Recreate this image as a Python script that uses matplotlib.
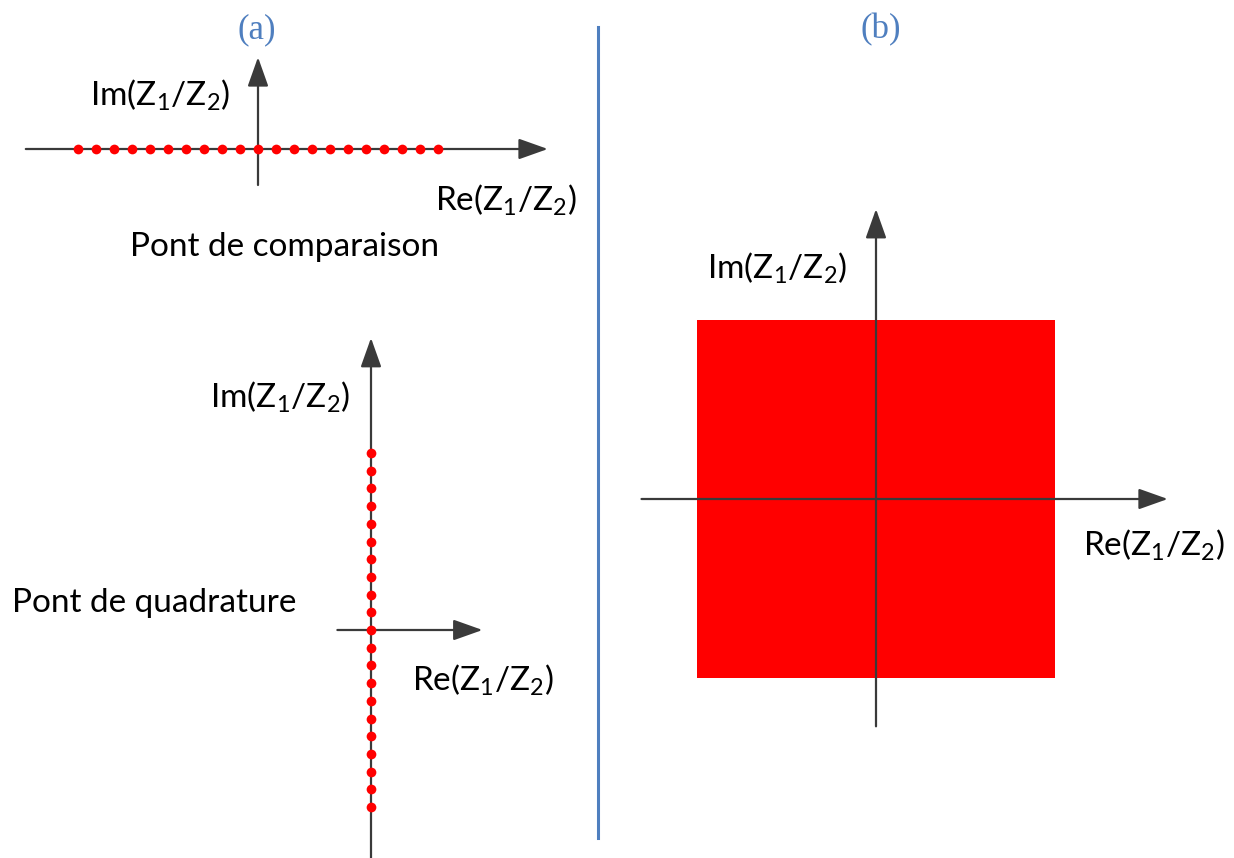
import matplotlib
matplotlib.use("Agg")
import matplotlib.pyplot as plt
from matplotlib.patches import Rectangle

# --- donnees ---
# pont de comparaison : rapport Z1/Z2 reel (points sur l'axe Re)
re_comparaison = [-10, -9, -8, -7, -6, -5, -4, -3, -2, -1, 0,
                  1, 2, 3, 4, 5, 6, 7, 8, 9, 10]
# pont de quadrature : rapport Z1/Z2 imaginaire pur (points sur l'axe Im)
im_quadrature = [-10, -9, -8, -7, -6, -5, -4, -3, -2, -1, 0,
                 1, 2, 3, 4, 5, 6, 7, 8, 9, 10]
# (b) zone couverte dans le plan complexe
zone_re = [-1.0, 1.0]
zone_im = [-1.0, 1.0]

label_im = r"Im(Z$_\mathregular{1}$/Z$_\mathregular{2}$)"
label_re = r"Re(Z$_\mathregular{1}$/Z$_\mathregular{2}$)"

W, H = 1234, 858
AXIS_COL = "#3a3a3a"
DOT_COL = "#ff0000"
BLUE = "#4f7fbf"
FONT = "Lato"

fig = plt.figure(figsize=(W / 100, H / 100), dpi=100)
fig.patch.set_facecolor("white")


def fx(x):
    return x / W


def fy(y):
    return 1 - y / H


def diagram_axes(box, origin, scale):
    """axes place en pixels (haut-gauche), origine et echelle en px/unite"""
    x0, y0, x1, y1 = box
    ax = fig.add_axes([fx(x0), fy(y1), (x1 - x0) / W, (y1 - y0) / H])
    ox, oy = origin
    ax.set_xlim((x0 - ox) / scale, (x1 - ox) / scale)
    ax.set_ylim(-(y1 - oy) / scale, (oy - y0) / scale)
    ax.axis("off")
    return ax


def arrow(ax, start, tip):
    ax.annotate("", xy=tip, xytext=start,
                arrowprops=dict(arrowstyle="-|>,head_length=0.9,head_width=0.32",
                                mutation_scale=20, color=AXIS_COL, lw=1.6,
                                shrinkA=0, shrinkB=0), zorder=2)


def label(x, y, s, size=24, **kw):
    fig.text(fx(x), fy(y), s, fontsize=size, family=FONT, va="center", **kw)


# ---------- (a) pont de comparaison ----------
ax1 = diagram_axes((0, 40, 598, 240), (258, 149), 18.0)
arrow(ax1, (-12.9, 0), (16.1, 0))
arrow(ax1, (0, -2.0), (0, 5.1))
ax1.plot(re_comparaison, [0] * len(re_comparaison), "o", color=DOT_COL,
         ms=7, mec="none", zorder=3)

label(90, 95, label_im)
label(435, 200, label_re)
label(130, 247, "Pont de comparaison")

# ---------- (a) pont de quadrature ----------
ax2 = diagram_axes((300, 320, 598, 858), (371, 630), 17.7)
arrow(ax2, (-1.9, 0), (6.3, 0))
arrow(ax2, (0, -13.0), (0, 16.5))
ax2.plot([0] * len(im_quadrature), im_quadrature, "o", color=DOT_COL,
         ms=7, mec="none", zorder=3)

label(210, 397, label_im)
label(412, 680, label_re)
label(12, 603, "Pont de quadrature")

# ---------- (b) ----------
ax3 = diagram_axes((610, 190, 1234, 760), (876, 499), 179.0)
ax3.add_patch(Rectangle((zone_re[0], zone_im[0]), zone_re[1] - zone_re[0],
                        zone_im[1] - zone_im[0], facecolor=DOT_COL,
                        edgecolor="none", zorder=1))
arrow(ax3, (-1.31, 0), (1.63, 0))
arrow(ax3, (0, -1.27), (0, 1.62))

label(707, 268, label_im)
label(1083, 545, label_re)

# ---------- titres et separateur ----------
fig.text(fx(257), fy(30), "(a)", fontsize=25, family="Liberation Serif",
         color=BLUE, ha="center", va="center")
fig.text(fx(881), fy(30), "(b)", fontsize=25, family="Liberation Serif",
         color=BLUE, ha="center", va="center")
fig.add_artist(plt.Line2D([fx(598), fx(598)], [fy(27), fy(838)],
                          color=BLUE, lw=2.2))

fig.savefig("out.png", dpi=100, facecolor="white")
